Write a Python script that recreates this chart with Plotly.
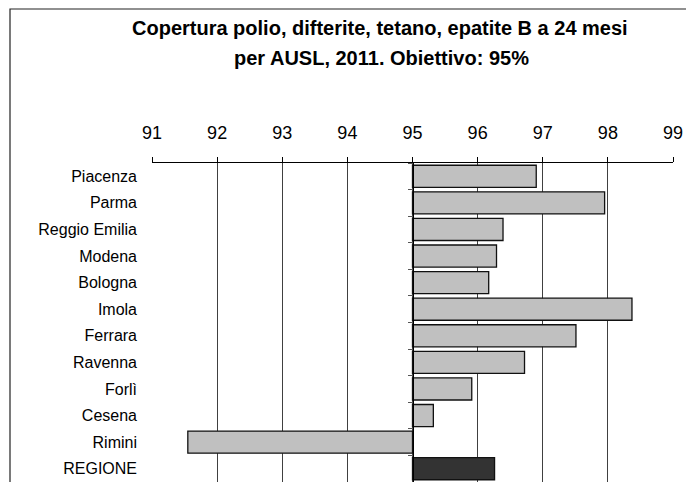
import plotly.graph_objs as go

# coperture per AUSL (%)
ausl = ['Piacenza', 'Parma', 'Reggio Emilia', 'Modena', 'Bologna', 'Imola',
        'Ferrara', 'Ravenna', 'Forlì', 'Cesena', 'Rimini', 'REGIONE']
copertura = [96.9, 97.95, 96.39, 96.29, 96.17, 98.37,
             97.51, 96.72, 95.91, 95.32, 91.55, 96.26]
obiettivo = 95
x_ticks = [91, 92, 93, 94, 95, 96, 97, 98, 99]

bar_colors = ['#c0c0c0'] * (len(ausl) - 1) + ['#333333']

# bars start from the target value (95) and go left or right
bar_trace = go.Bar(y=ausl, x=[v - obiettivo for v in copertura], base=obiettivo,
                   orientation='h',
                   customdata=copertura,
                   hovertemplate='%{y}: %{customdata}<extra></extra>',
                   marker={'color': bar_colors, 'line': {'color': '#111111', 'width': 1.3}})

# invisible trace so the second y axis (drawn at 95) is active
axis_trace = go.Scatter(x=[obiettivo], y=[0], yaxis='y2', mode='markers',
                        marker={'opacity': 0}, hoverinfo='skip', showlegend=False)

W, H = 686, 482
m_l, m_r, m_t, m_b = 152, 13, 163, 0
pw, ph = W - m_l - m_r, H - m_t - m_b


def px_x(px):
    return (px - m_l) / pw


def px_y(py):
    return (H - m_b - py) / ph


font = 'Liberation Sans, Arial, sans-serif'

fig = go.Figure(data=[bar_trace, axis_trace])
fig.update_layout(
    width=W, height=H,
    margin={'l': m_l, 'r': m_r, 't': m_t, 'b': m_b, 'pad': 0, 'autoexpand': False},
    paper_bgcolor='white', plot_bgcolor='white',
    showlegend=False, bargap=0.17,
    font={'family': font, 'color': 'black'},
    xaxis={'side': 'top', 'range': [x_ticks[0], x_ticks[-1]], 'tickvals': x_ticks,
           'showgrid': True, 'gridcolor': '#404040', 'gridwidth': 1,
           'showline': True, 'linecolor': 'black', 'linewidth': 1,
           'ticks': 'outside', 'ticklen': 5, 'tickcolor': 'black',
           'tickfont': {'size': 18}, 'ticklabelstandoff': 11, 'zeroline': False,
           'automargin': False},
    yaxis={'categoryorder': 'array', 'categoryarray': ausl, 'autorange': 'reversed',
           'showline': False, 'showgrid': False, 'ticks': '',
           'tickfont': {'size': 16}, 'ticklabelstandoff': 14, 'automargin': False},
    yaxis2={'overlaying': 'y', 'anchor': 'free',
            'position': (obiettivo - x_ticks[0]) / (x_ticks[-1] - x_ticks[0]),
            'range': [len(ausl) - 0.5, -0.5],
            'tickvals': [i - 0.5 for i in range(len(ausl) + 1)],
            'showticklabels': False, 'showgrid': False, 'zeroline': False,
            'showline': True, 'linecolor': 'black', 'linewidth': 1,
            'ticks': 'outside', 'ticklen': 5, 'tickcolor': '#555555',
            'automargin': False},
    shapes=[dict(type='rect', xref='paper', yref='paper',
                 x0=px_x(10), x1=px_x(W + 20), y0=px_y(H + 20), y1=px_y(9),
                 line={'color': '#222222', 'width': 1.2})],
    annotations=[
        dict(text='<b>Copertura polio, difterite, tetano, epatite B a 24 mesi</b>',
             xref='paper', yref='paper', x=px_x(380), y=px_y(28),
             showarrow=False, font={'size': 20}, xanchor='center', yanchor='middle'),
        dict(text='<b>per AUSL, 2011. Obiettivo: 95%</b>',
             xref='paper', yref='paper', x=px_x(381), y=px_y(58),
             showarrow=False, font={'size': 20}, xanchor='center', yanchor='middle'),
    ],
)

# page body margin would shift the figure by 8px
fig.write_html("out.html", config={'displayModeBar': False},
               post_script="document.body.style.margin='0px';")
